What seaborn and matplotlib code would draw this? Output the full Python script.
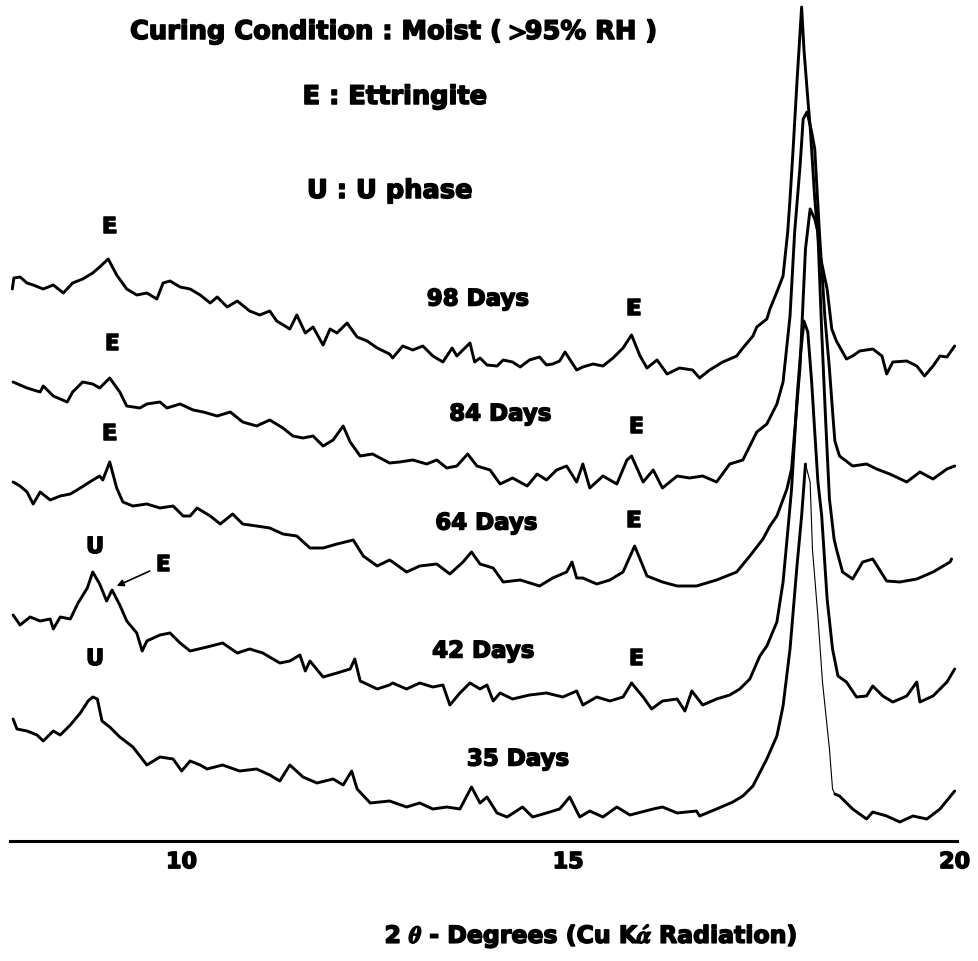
import numpy as np
import pandas as pd
import matplotlib
matplotlib.use("Agg")
import matplotlib.pyplot as plt
import matplotlib.patheffects as pe
import seaborn as sns

# ---------------- data (2-theta in degrees, stacked intensity, arbitrary units) -------------
theta_98 = [7.81, 7.83, 7.91, 8.00, 8.08, 8.21, 8.34, 8.47, 8.59, 8.72, 8.85, 8.94, 9.05, 9.16, 9.29,
            9.42, 9.55, 9.68, 9.76, 9.85, 9.98, 10.11, 10.24, 10.37, 10.46, 10.59, 10.72, 10.88, 11.01,
            11.14, 11.23, 11.40, 11.49, 11.60, 11.70, 11.83, 11.92, 12.01, 12.14, 12.27, 12.40, 12.53,
            12.69, 12.73, 12.86, 12.99, 13.12, 13.25, 13.38, 13.50, 13.56, 13.73, 13.79, 13.86, 13.95,
            14.08, 14.16, 14.28, 14.38, 14.50, 14.63, 14.72, 14.80, 14.89, 14.96, 15.11, 15.19, 15.32,
            15.45, 15.58, 15.71, 15.82, 15.93, 16.02, 16.15, 16.28, 16.44, 16.61, 16.70, 16.83, 17.00,
            17.18, 17.26, 17.39, 17.44, 17.57, 17.61, 17.70, 17.78, 17.84, 17.87, 17.91, 17.96, 18.00,
            18.02, 18.05, 18.10, 18.13, 18.19, 18.25, 18.35, 18.41, 18.47, 18.60, 18.68, 18.77, 18.94,
            19.06, 19.12, 19.20, 19.38, 19.51, 19.61, 19.72, 19.81, 19.90, 20.00]
int_98 = [552, 563, 564, 558, 556, 552, 556, 548, 558, 562, 568, 574, 582, 566, 552,
          546, 548, 542, 558, 560, 554, 552, 546, 538, 544, 534, 540, 530, 526,
          530, 520, 512, 526, 508, 514, 496, 512, 508, 518, 504, 500, 493,
          487, 483, 495, 491, 495, 485, 479, 493, 485, 498, 479, 483, 476,
          475, 481, 479, 474, 481, 484, 476, 477, 480, 489, 471, 474, 477,
          475, 483, 493, 506, 485, 473, 481, 467, 473, 471, 463, 471, 479,
          485, 493, 505, 514, 522, 532, 549, 565, 609, 642, 692, 759, 809,
          834, 792, 742, 715, 642, 589, 552, 512, 500, 482, 485, 490, 492,
          485, 467, 479, 480, 475, 465, 475, 485, 484, 495]

theta_84 = [7.82, 7.91, 8.00, 8.17, 8.21, 8.34, 8.52, 8.59, 8.72, 8.85, 8.94, 9.07, 9.20, 9.29, 9.46,
            9.55, 9.72, 9.81, 9.98, 10.15, 10.28, 10.46, 10.63, 10.79, 10.97, 11.14, 11.31, 11.44,
            11.57, 11.70, 11.83, 11.96, 12.09, 12.18, 12.31, 12.47, 12.69, 12.82, 12.99, 13.17, 13.30,
            13.43, 13.56, 13.70, 13.82, 13.99, 14.12, 14.28, 14.47, 14.60, 14.72, 14.85, 14.98, 15.11,
            15.19, 15.28, 15.45, 15.63, 15.76, 15.82, 15.97, 16.10, 16.22, 16.41, 16.57, 16.74, 16.92,
            17.09, 17.26, 17.44, 17.57, 17.70, 17.78, 17.87, 17.93, 18.00, 18.04, 18.09, 18.15, 18.19,
            18.25, 18.32, 18.38, 18.42, 18.45, 18.51, 18.68, 18.86, 18.99, 19.16, 19.38, 19.55, 19.72,
            19.90, 20.00]
int_84 = [459, 456, 453, 449, 455, 445, 439, 449, 459, 457, 453, 463, 449, 435, 433,
          437, 439, 433, 437, 431, 429, 425, 429, 419, 415, 421, 413, 405,
          403, 405, 395, 401, 415, 399, 385, 387, 378, 379, 381, 377, 381,
          373, 375, 387, 375, 371, 357, 363, 355, 367, 361, 371, 375, 359,
          377, 353, 365, 357, 381, 385, 359, 371, 353, 365, 363, 365, 359,
          377, 381, 409, 417, 437, 459, 525, 609, 675, 722, 729, 709, 692,
          609, 525, 472, 430, 400, 385, 375, 377, 372, 367, 359, 369, 362,
          372, 375]

theta_64 = [7.82, 7.91, 8.00, 8.08, 8.17, 8.30, 8.43, 8.56, 8.69, 8.81, 8.94, 8.98, 9.07, 9.16, 9.24,
            9.37, 9.55, 9.72, 9.89, 10.02, 10.11, 10.20, 10.37, 10.50, 10.66, 10.79, 10.97, 11.14,
            11.31, 11.49, 11.66, 11.83, 12.01, 12.22, 12.35, 12.53, 12.69, 12.73, 12.91, 13.08, 13.30,
            13.47, 13.64, 13.75, 13.86, 14.03, 14.16, 14.38, 14.63, 14.80, 14.98, 15.05, 15.11, 15.19,
            15.37, 15.54, 15.71, 15.86, 16.02, 16.22, 16.41, 16.66, 16.92, 17.18, 17.35, 17.52, 17.61,
            17.70, 17.83, 17.89, 17.93, 18.00, 18.04, 18.07, 18.13, 18.19, 18.23, 18.28, 18.33, 18.38,
            18.44, 18.47, 18.55, 18.68, 18.81, 18.94, 19.12, 19.29, 19.51, 19.72, 19.94, 19.96]
int_64 = [359, 355, 349, 337, 349, 341, 345, 347, 353, 359, 365, 361, 379, 353, 339,
          335, 337, 333, 335, 325, 325, 333, 325, 317, 327, 317, 315, 313,
          307, 305, 293, 293, 297, 301, 285, 275, 281, 279, 269, 275, 277,
          267, 279, 289, 277, 273, 259, 261, 255, 263, 269, 279, 263, 263,
          257, 261, 269, 295, 265, 259, 255, 255, 261, 269, 285, 302, 315,
          325, 352, 372, 409, 475, 542, 592, 632, 622, 609, 509, 422, 342,
          302, 292, 269, 262, 279, 282, 260, 259, 262, 269, 279, 282]

theta_42 = [7.82, 7.91, 8.04, 8.17, 8.30, 8.34, 8.43, 8.56, 8.66, 8.78, 8.85, 8.94, 9.03, 9.10, 9.20,
            9.29, 9.42, 9.49, 9.55, 9.72, 9.85, 9.98, 10.11, 10.33, 10.53, 10.72, 10.88, 11.05, 11.27,
            11.40, 11.53, 11.60, 11.66, 11.83, 12.01, 12.18, 12.24, 12.31, 12.53, 12.69, 12.73, 12.91,
            13.08, 13.25, 13.38, 13.47, 13.60, 13.73, 13.86, 13.95, 14.03, 14.12, 14.28, 14.50, 14.72,
            14.93, 15.11, 15.19, 15.37, 15.54, 15.71, 15.82, 15.97, 16.08, 16.22, 16.41, 16.51, 16.60,
            16.74, 16.92, 17.09, 17.22, 17.35, 17.48, 17.57, 17.70, 17.78, 17.84, 17.89, 17.96, 18.00,
            18.05, 18.10, 18.15, 18.19, 18.23, 18.28, 18.35, 18.42, 18.49, 18.60, 18.73, 18.86, 18.94,
            19.07, 19.20, 19.38, 19.51, 19.55, 19.72, 19.90, 20.00]
int_42 = [226, 216, 224, 220, 222, 212, 224, 222, 238, 253, 269, 257, 240, 251, 236,
          220, 208, 190, 200, 206, 208, 198, 190, 194, 198, 188, 192, 188, 178,
          180, 186, 170, 180, 164, 168, 172, 182, 160, 152, 156, 158, 152,
          158, 154, 156, 136, 148, 158, 152, 156, 140, 148, 142, 146, 148,
          144, 150, 136, 144, 140, 144, 158, 144, 132, 140, 142, 130, 150,
          136, 142, 146, 152, 162, 185, 195, 219, 259, 309, 352, 442, 482,
          520, 509, 459, 409, 360, 325, 242, 192, 165, 159, 144, 145, 155,
          145, 139, 145, 159, 139, 145, 159, 172]

theta_35 = [7.82, 7.87, 8.00, 8.13, 8.21, 8.34, 8.43, 8.56, 8.69, 8.79, 8.85, 8.91, 8.97, 9.07, 9.20,
            9.37, 9.55, 9.72, 9.89, 10.00, 10.11, 10.24, 10.33, 10.53, 10.75, 10.97, 11.14, 11.27,
            11.40, 11.57, 11.75, 11.96, 12.09, 12.20, 12.27, 12.44, 12.69, 12.91, 13.08, 13.25, 13.43,
            13.60, 13.75, 13.86, 13.95, 14.08, 14.21, 14.41, 14.54, 14.72, 14.89, 15.02, 15.11, 15.15,
            15.28, 15.45, 15.63, 15.80, 16.10, 16.22, 16.41, 16.66, 16.70, 16.92, 17.13, 17.26, 17.39,
            17.57, 17.70, 17.78, 17.87, 17.96, 18.02, 18.07, 18.13, 18.16, 18.23, 18.29, 18.38, 18.42,
            18.45, 18.51, 18.68, 18.86, 18.94, 19.12, 19.29, 19.46, 19.64, 19.81, 20.00]
int_35 = [122, 112, 110, 106, 100, 110, 106, 116, 128, 140, 144, 142, 120, 114, 104,
          94, 76, 84, 82, 70, 80, 76, 72, 76, 70, 72, 66, 60,
          76, 64, 58, 62, 56, 70, 52, 38, 40, 34, 38, 32, 34,
          32, 54, 38, 44, 28, 24, 34, 24, 28, 32, 44, 30, 24,
          30, 24, 34, 26, 32, 34, 28, 30, 25, 32, 39, 45, 55,
          82, 105, 135, 192, 275, 325, 377, 359, 292, 225, 159, 92, 52,
          47, 45, 32, 22, 29, 25, 19, 25, 22, 32, 50]

ages = ["98 Days", "84 Days", "64 Days", "42 Days", "35 Days"]
thetas = [theta_98, theta_84, theta_64, theta_42, theta_35]
intens = [int_98, int_84, int_64, int_42, int_35]

df = pd.concat([pd.DataFrame({"theta": t, "intensity": i, "age": a})
                for t, i, a in zip(thetas, intens, ages)], ignore_index=True)

# ---------------- figure ----------------
sns.set_theme(style="white")
plt.rcParams["font.family"] = ["DejaVu Sans"]
plt.rcParams["font.weight"] = "bold"
plt.rcParams["mathtext.fontset"] = "stix"
plt.rcParams["text.color"] = "black"
plt.rcParams["axes.labelcolor"] = "black"
plt.rcParams["xtick.color"] = "black"

heavy = [pe.withStroke(linewidth=1.1, foreground="black")]

W, H = 979, 962
fig = plt.figure(figsize=(W / 100, H / 100), dpi=100)
ax = fig.add_axes([10 / W, (H - 842) / H, 947 / W, 842 / H])
ax.set_facecolor("white")

lw = 2.1
for a in ages[:4]:
    sns.lineplot(data=df[df["age"] == a], x="theta", y="intensity", ax=ax,
                 color="black", lw=lw, estimator=None, sort=False)

d35 = df[df["age"] == "35 Days"]
thin = (d35["theta"] >= 18.07) & (d35["theta"] <= 18.45)
sns.lineplot(data=d35[d35["theta"] <= 18.07], x="theta", y="intensity", ax=ax,
             color="black", lw=lw, estimator=None, sort=False)
sns.lineplot(data=d35[thin], x="theta", y="intensity", ax=ax,
             color="black", lw=0.8, estimator=None, sort=False)
sns.lineplot(data=d35[d35["theta"] >= 18.45], x="theta", y="intensity", ax=ax,
             color="black", lw=lw, estimator=None, sort=False)

ax.set_xlim(7.78, 20.03)
ax.set_ylim(0, 842)
for s in ["left", "top", "right"]:
    ax.spines[s].set_visible(False)
ax.spines["bottom"].set_color("black")
ax.spines["bottom"].set_linewidth(2.2)
ax.set_yticks([])
ax.set_xticks([10, 15, 20])
ax.set_xticks(range(8, 21), minor=True)
ax.tick_params(axis="x", which="major", direction="in", length=11, width=1.5,
               colors="black", pad=8, labelsize=16)
ax.tick_params(axis="x", which="minor", direction="in", length=6, width=1.3, colors="black")
for lab in ax.get_xticklabels():
    lab.set_fontweight("bold")
    lab.set_path_effects(heavy)
ax.set_xlabel("")
ax.set_ylabel("")

# ---------------- annotations ----------------
kw = dict(ha="center", va="center", fontsize=16, fontweight="bold", color="black",
          path_effects=heavy)
dkw = dict(kw, fontsize=16.5)
ax.text(9.07, 614, "E", **kw)
ax.text(13.83, 542, "98 Days", **dkw)
ax.text(15.85, 532, "E", **kw)
ax.text(9.10, 497, "E", **kw)
ax.text(14.12, 427, "84 Days", **dkw)
ax.text(15.88, 414, "E", **kw)
ax.text(9.07, 407, "E", **kw)
ax.text(13.94, 318, "64 Days", **dkw)
ax.text(15.85, 320, "E", **kw)
ax.text(8.88, 294, "U", **kw)
ax.annotate("E", xy=(9.16, 255), xytext=(9.76, 276), textcoords="data",
            arrowprops=dict(arrowstyle="-|>", color="black", lw=1.2, mutation_scale=10,
                            shrinkA=2, shrinkB=0), **kw)
ax.text(13.90, 190, "42 Days", **dkw)
ax.text(15.88, 182, "E", **kw)
ax.text(8.88, 182, "U", **kw)
ax.text(14.35, 82, "35 Days", **dkw)

tkw = dict(ha="center", va="center", fontsize=18.5, fontweight="bold", color="black",
           path_effects=heavy)
fig.text(394 / W, 1 - 33 / H, r"Curing Condition : Moist ( $\!\!>\!\!$95% RH )", **tkw)
fig.text(395 / W, 1 - 98 / H, "E : Ettringite", **tkw)
fig.text(390 / W, 1 - 192 / H, "U : U phase", **tkw)
fig.text(591 / W, 1 - 937 / H, r"2 $\theta$ - Degrees (Cu K$\acute{\alpha}$ Radiation)",
         ha="center", va="center", fontsize=17, fontweight="bold", color="black",
         path_effects=heavy)

fig.savefig("out.png", dpi=100, facecolor="white")
